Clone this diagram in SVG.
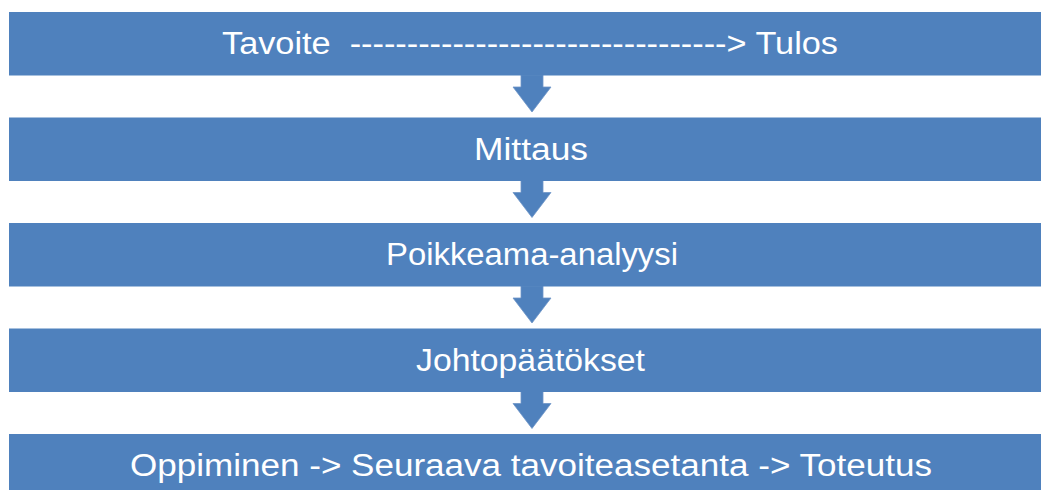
<svg xmlns="http://www.w3.org/2000/svg" width="1041" height="490" viewBox="0 0 1041 490">
  <style>
    .box { fill: #4F81BD; }
    .arrow { fill: #4F81BD; stroke: #6F96C8; stroke-width: 0.8; }
    .label { fill: #FFFFFF; font-family: "Liberation Sans", Arial, sans-serif; font-size: 31px; text-anchor: middle; }
  </style>
  <defs>
    <!-- block arrow pointing down, origin at top centre of the shaft -->
    <path id="down" d="M -11 0 L 11 0 L 11 12 L 19 12 L 0 37 L -19 12 L -11 12 Z"/>
  </defs>

  <g id="connectors">
    <use href="#down" class="arrow" x="532" y="75"/>
    <use href="#down" class="arrow" x="532" y="180.5"/>
    <use href="#down" class="arrow" x="532" y="286"/>
    <use href="#down" class="arrow" x="532" y="391.5"/>
  </g>

  <g id="tavoite">
    <rect class="box" x="9" y="12" width="1050" height="63.5"/>
    <text class="label" x="530" y="54" textLength="616" lengthAdjust="spacingAndGlyphs">Tavoite&#160; ---------------------------------&gt; Tulos</text>
  </g>
  <g id="mittaus">
    <rect class="box" x="9" y="117.5" width="1050" height="63.5"/>
    <text class="label" x="531" y="159.5" textLength="114" lengthAdjust="spacingAndGlyphs">Mittaus</text>
  </g>
  <g id="poikkeama">
    <rect class="box" x="9" y="223" width="1050" height="63.5"/>
    <text class="label" x="532" y="265" textLength="292" lengthAdjust="spacingAndGlyphs">Poikkeama-analyysi</text>
  </g>
  <g id="johtopaatokset">
    <rect class="box" x="9" y="328.5" width="1050" height="63.5"/>
    <text class="label" x="530.5" y="370.5" textLength="229" lengthAdjust="spacingAndGlyphs">Johtopäätökset</text>
  </g>
  <g id="oppiminen">
    <rect class="box" x="9" y="434" width="1050" height="63.5"/>
    <text class="label" x="531" y="476" textLength="802" lengthAdjust="spacingAndGlyphs">Oppiminen -&gt; Seuraava tavoiteasetanta -&gt; Toteutus</text>
  </g>
</svg>
